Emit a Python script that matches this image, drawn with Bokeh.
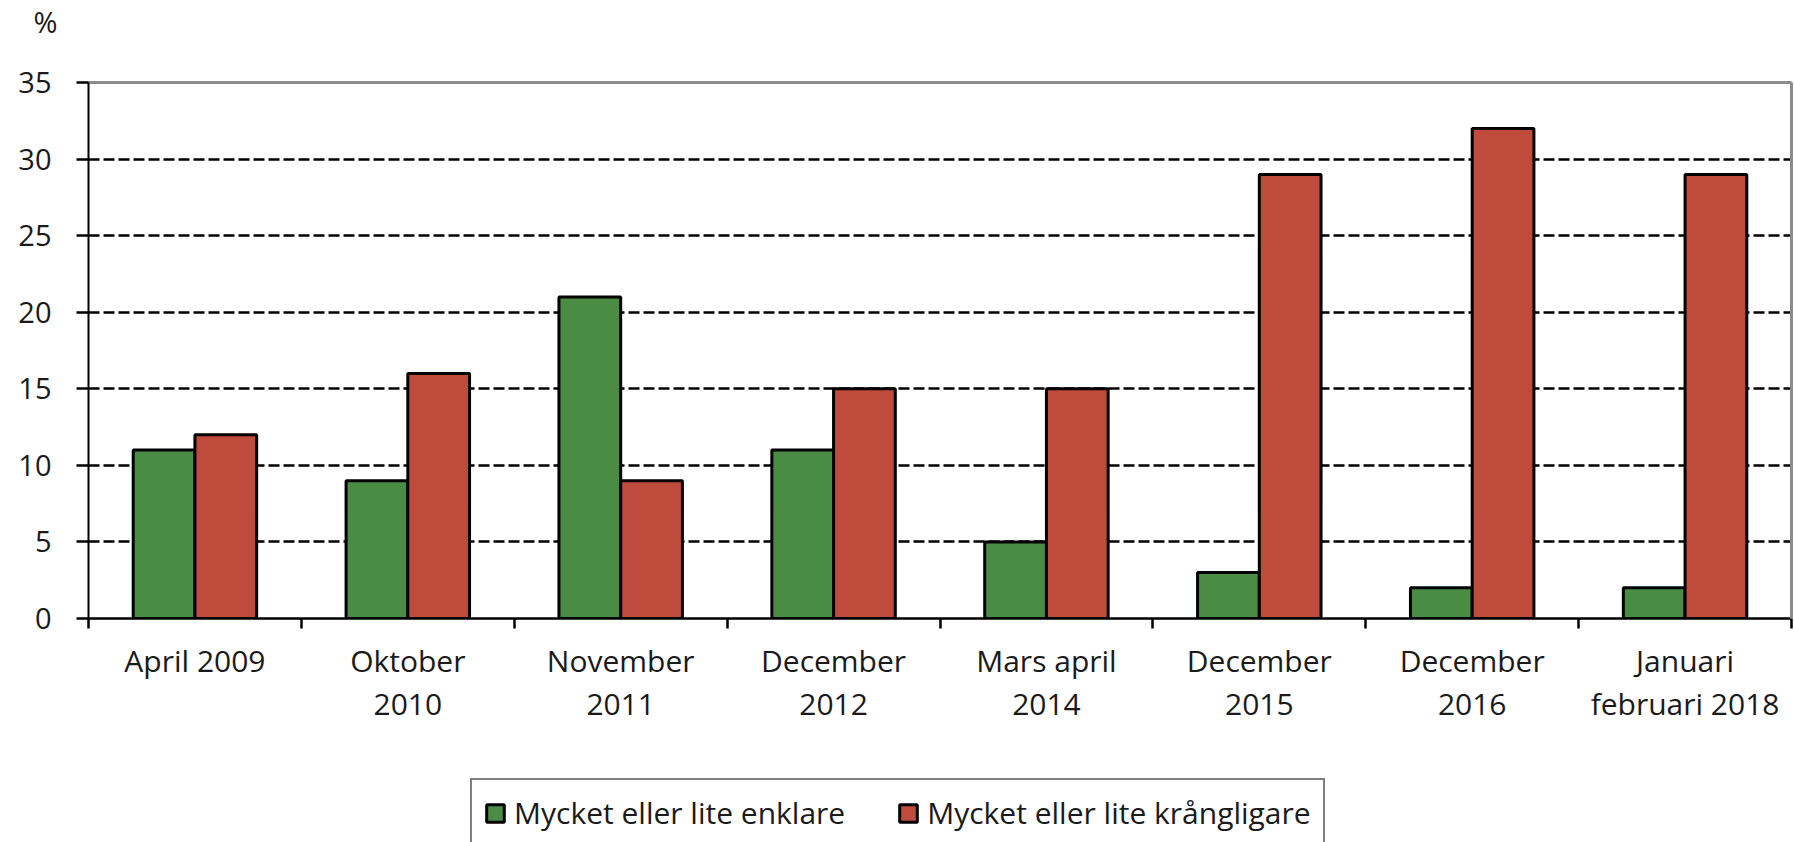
from bokeh.plotting import figure
from bokeh.models import (ColumnDataSource, FactorRange, Range1d, LinearAxis,
                          FixedTicker, Legend, LegendItem)
from bokeh.layouts import column
from bokeh.transform import dodge
from bokeh.embed import file_html
from bokeh.resources import INLINE

# ---- data ----
categories = ["April 2009", "Oktober\n2010", "November\n2011", "December\n2012",
              "Mars april\n2014", "December\n2015", "December\n2016",
              "Januari\nfebruari 2018"]
enklare = [11, 9, 21, 11, 5, 3, 2, 2]
krangligare = [12, 16, 9, 15, 15, 29, 32, 29]
y_ticks = [0, 5, 10, 15, 20, 25, 30, 35]
series_names = ["Mycket eller lite enklare", "Mycket eller lite krångligare"]
unit_label = "%"

FONT = "Open Sans"
TXT = "#1a1a1a"
GREEN = "#4a8c44"
RED = "#be4b3b"
colors = [GREEN, RED]

src = ColumnDataSource(dict(cat=categories, enk=enklare, kra=krangligare))

p = figure(width=1794, height=770, output_backend="svg", toolbar_location=None,
           x_range=FactorRange(factors=categories, range_padding=0),
           y_range=Range1d(y_ticks[0], y_ticks[-1]),
           x_axis_location=None, min_border_left=88, min_border_top=82,
           min_border_right=3, min_border_bottom=152)
p.outline_line_color = None
p.background_fill_color = "white"
p.border_fill_color = "white"

n = len(categories)

# bars
p.vbar(x=dodge("cat", -0.145, range=p.x_range), top="enk", width=0.29, source=src,
       fill_color=colors[0], line_color="black", line_width=3)
p.vbar(x=dodge("cat", 0.145, range=p.x_range), top="kra", width=0.29, source=src,
       fill_color=colors[1], line_color="black", line_width=3)

# grid
for g in p.xgrid:
    g.visible = False
p.ygrid.ticker = FixedTicker(ticks=y_ticks[1:-1])
p.ygrid.grid_line_color = "black"
p.ygrid.grid_line_width = 2.5
p.ygrid.grid_line_dash = "11 4"

# y axis
ya = p.yaxis[0]
ya.ticker = FixedTicker(ticks=y_ticks)
ya.axis_line_color = "black"
ya.axis_line_width = 2
ya.major_tick_line_color = "black"
ya.major_tick_line_width = 2.5
ya.major_tick_out = 12
ya.major_tick_in = 0
ya.minor_tick_line_color = None
ya.major_label_standoff = 25
ya.major_label_text_font = FONT
ya.major_label_text_font_size = "29px"
ya.major_label_text_color = TXT

# x axis: labels at category centres (synthetic coords), ticks at boundaries
centers = [i + 0.5 for i in range(n)]
edges = [float(i) for i in range(n + 1)]
xa = LinearAxis(ticker=FixedTicker(ticks=centers, minor_ticks=edges),
                major_label_overrides={c: lab for c, lab in zip(centers, categories)})
xa.axis_line_color = "black"
xa.axis_line_width = 2.5
xa.major_tick_line_color = None
xa.major_tick_out = 10
xa.major_tick_in = 0
xa.minor_tick_line_color = "black"
xa.minor_tick_line_width = 2.5
xa.minor_tick_out = 10
xa.minor_tick_in = 0
xa.major_label_standoff = 11
xa.major_label_text_font = FONT
xa.major_label_text_font_size = "30px"
xa.major_label_text_color = TXT
xa.major_label_text_line_height = 1.05
p.add_layout(xa, "below")

# grey top/right frame
top = LinearAxis(ticker=FixedTicker(ticks=[]))
right = LinearAxis(ticker=FixedTicker(ticks=[]))
for ax in (top, right):
    ax.axis_line_color = "#8c8c8c"
    ax.axis_line_width = 3
    ax.major_tick_out = 0
    ax.major_tick_in = 0
    ax.minor_tick_out = 0
    ax.minor_tick_in = 0
    ax.major_tick_line_color = None
    ax.minor_tick_line_color = None
    ax.major_label_standoff = 0
    ax.major_label_text_font_size = "0px"
p.add_layout(top, "above")
p.add_layout(right, "right")

# unit label as (two-line) title so it sits near the top edge
p.title.text = unit_label + "\n "
p.title.align = "left"
p.title.vertical_align = "top"
p.title.offset = -55
p.title.standoff = 2
p.title.text_font = FONT
p.title.text_font_size = "29px"
p.title.text_font_style = "normal"
p.title.text_color = TXT
p.title.text_line_height = 1.0

# ---- legend strip ----
lf = figure(width=1794, height=72, output_backend="svg", toolbar_location=None,
            x_range=Range1d(0, 1), y_range=Range1d(0, 1),
            x_axis_location=None, y_axis_location=None,
            min_border_left=88, min_border_right=3, min_border_top=0, min_border_bottom=0)
lf.outline_line_color = None
lf.xgrid.visible = False
lf.ygrid.visible = False
nan = float("nan")
items = []
for name, col in zip(series_names, colors):
    r = lf.vbar(x=[nan], top=[nan], width=0.1, fill_color=col, line_color="black",
                line_width=3)
    items.append(LegendItem(label=name, renderers=[r]))
lg = Legend(items=items, orientation="horizontal", location=(382, -5))
lg.margin = 0
lg.padding = 12
lg.spacing = 52
lg.label_standoff = 8
lg.glyph_width = 22
lg.glyph_height = 22
lg.label_height = 30
lg.label_text_font = FONT
lg.label_text_font_size = "30px"
lg.label_text_color = TXT
lg.border_line_color = "black"
lg.border_line_width = 2
lg.background_fill_color = "white"
lg.background_fill_alpha = 1
lf.add_layout(lg, "center")

layout = column(p, lf, spacing=0)
open("out.html", "w").write(file_html(layout, INLINE))
